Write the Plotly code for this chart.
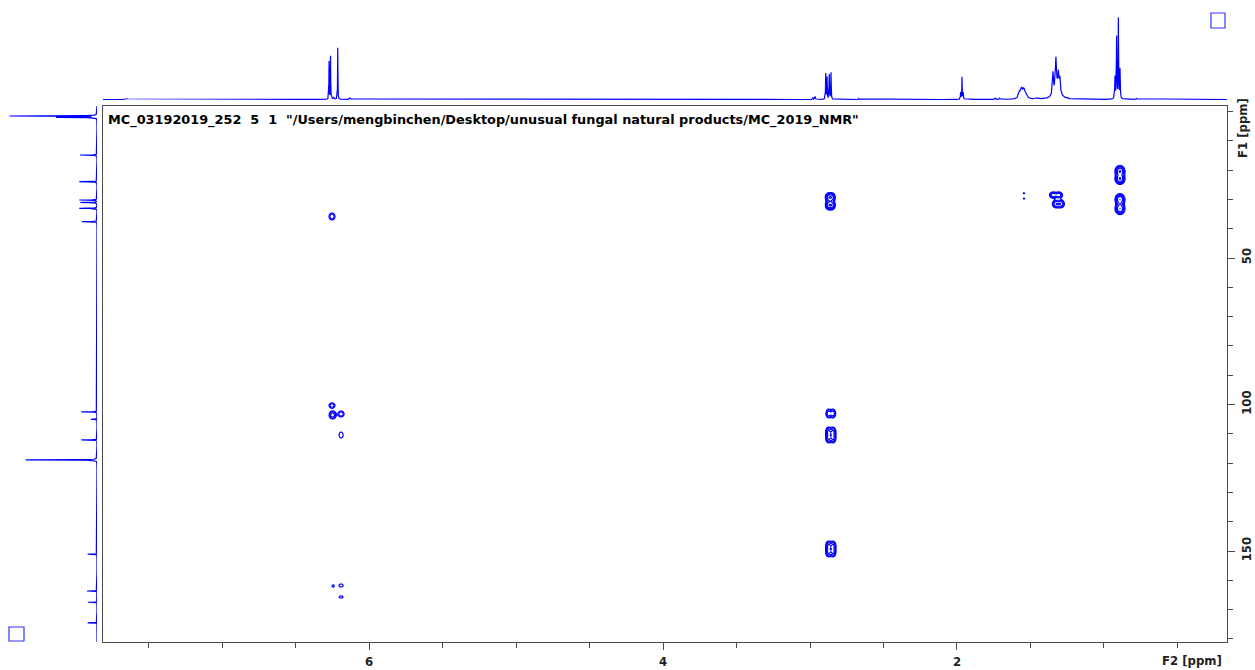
import numpy as np
import plotly.graph_objects as go

W, H = 1255, 670

# ---- 1H projection (F2): line positions (ppm), intensities, half-widths (ppm)
h_shift = [7.650, 6.272, 6.262, 6.255, 6.240, 6.213, 6.130,
           2.980, 2.965, 2.893, 2.884, 2.869, 2.857, 2.670, 2.200,
           1.975, 1.966, 1.958, 1.740, 1.710,
           1.575, 1.560, 1.545, 1.530, 1.460,
           1.347, 1.327, 1.310, 1.300, 1.320,
           0.925, 0.914, 0.902, 0.891, 0.780]
h_height = [1.0, 38, 43, 2.5, 2.0, 52, 1.5,
            2.0, 3.0, 26, 22, 25, 27, 1.0, 0.7,
            7, 22, 7, 1.2, 1.2,
            6, 9, 8, 5, 1.0,
            22, 30, 16, 14, 12,
            22, 62, 80, 30, 1.0]
h_width = [0.01, 0.0012, 0.0012, 0.003, 0.003, 0.0012, 0.004,
           0.002, 0.002, 0.0015, 0.0015, 0.0015, 0.0015, 0.002, 0.002,
           0.002, 0.0012, 0.002, 0.003, 0.003,
           0.008, 0.008, 0.008, 0.008, 0.01,
           0.004, 0.004, 0.004, 0.004, 0.022,
           0.002, 0.0018, 0.0015, 0.002, 0.003]

# ---- 13C projection (F1): line positions (ppm) and intensities
c_shift = [1.54, 2.00, 14.85, 23.96, 30.20, 31.06, 33.04, 37.60,
           102.50, 105.05, 112.10, 118.90, 151.10, 163.65, 167.50, 174.50]
c_height = [87, 40, 17, 17.7, 17.7, 16.7, 17.7, 15,
            15.7, 6, 15.7, 71.3, 9.3, 10, 9, 9.3]
c_width = 0.05

# ---- HMBC cross peaks: F2 (1H ppm), F1 (13C ppm), intensity, std devs (ppm)
cp_f2 = [6.252, 6.252, 6.248, 6.190, 6.190, 6.245, 6.190, 6.190,
         2.874, 2.850, 2.874, 2.850,
         2.874, 2.843,
         2.874, 2.843, 2.874, 2.843,
         2.874, 2.843, 2.874, 2.843,
         1.544, 1.544,
         1.347, 1.306, 1.327, 1.293,
         0.891, 0.891, 0.891, 0.891]
cp_f1 = [35.84, 100.34, 103.58, 103.24, 110.41, 161.95, 161.77, 165.70,
         29.30, 29.30, 32.00, 32.00,
         103.07, 103.07,
         109.30, 109.30, 111.50, 111.50,
         148.20, 148.20, 150.40, 150.40,
         27.90, 29.70,
         28.50, 28.50, 31.50, 31.50,
         20.30, 23.00, 30.00, 33.20]
cp_int = [0.22, 0.20, 0.30, 0.22, 0.15, 0.11, 0.13, 0.12,
          0.40, 0.40, 0.40, 0.40,
          0.30, 0.30,
          0.35, 0.35, 0.35, 0.35,
          0.35, 0.35, 0.35, 0.35,
          0.11, 0.11,
          0.30, 0.30, 0.30, 0.30,
          0.50, 0.50, 0.50, 0.50]
cp_sd2 = [0.016, 0.017, 0.016, 0.016, 0.015, 0.015, 0.019, 0.022,
          0.013, 0.013, 0.013, 0.013,
          0.012, 0.012,
          0.012, 0.012, 0.012, 0.012,
          0.012, 0.012, 0.012, 0.012,
          0.010, 0.010,
          0.016, 0.016, 0.016, 0.016,
          0.019, 0.019, 0.019, 0.019]
cp_sd1 = [0.95, 0.75, 0.92, 0.80, 1.10, 0.80, 0.71, 0.60,
          0.90, 0.90, 0.90, 0.90,
          1.00, 1.00,
          1.00, 1.00, 1.00, 1.00,
          1.00, 1.00, 1.00, 1.00,
          0.40, 0.40,
          0.70, 0.70, 0.90, 0.90,
          1.05, 1.05, 1.10, 1.10]

F2_RANGE = [7.81, 0.163]
F1_RANGE = [181.06, -1.88]
F2_MAJOR = [6, 4, 2]
F2_MINOR = [7.5, 7.0, 6.5, 5.5, 5.0, 4.5, 3.5, 3.0, 2.5, 1.5, 1.0, 0.5]
F1_MAJOR = [50, 100, 150]
F1_MINOR = [0, 10, 20, 30, 40, 60, 70, 80, 90, 110, 120, 130, 140, 160, 170, 180]
TITLE = 'MC_03192019_252  5  1  "/Users/mengbinchen/Desktop/unusual fungal natural products/MC_2019_NMR"'

BLUE = "#0000ff"


def lorentz_sum(grid, centers, heights, widths):
    g = grid[:, None]
    c = np.asarray(centers)[None, :]
    h = np.asarray(heights)[None, :]
    w = np.broadcast_to(np.asarray(widths, dtype=float), c.shape[1:])[None, :]
    return np.sum(h * w ** 2 / ((g - c) ** 2 + w ** 2), axis=1)


# 1H projection trace
h_grid = np.union1d(np.arange(F2_RANGE[1], F2_RANGE[0], 0.0005), h_shift)
h_spec = lorentz_sum(h_grid, h_shift, h_height, h_width)

# 13C projection trace
c_grid = np.union1d(np.arange(F1_RANGE[1], F1_RANGE[0], 0.02), c_shift)
c_spec = lorentz_sum(c_grid, c_shift, c_height, c_width)

fig = go.Figure()

fig.add_trace(go.Scatter(x=h_grid, y=h_spec, mode="lines",
                         line=dict(color=BLUE, width=1.2),
                         xaxis="x2", yaxis="y2", hoverinfo="skip", showlegend=False))
fig.add_trace(go.Scatter(x=c_spec, y=c_grid, mode="lines",
                         line=dict(color=BLUE, width=1.2),
                         xaxis="x3", yaxis="y3", hoverinfo="skip", showlegend=False))

# 2D contour map, computed on local windows around groups of cross peaks
f2 = np.array(cp_f2); f1 = np.array(cp_f1); amp = np.array(cp_int)
s2 = np.array(cp_sd2); s1 = np.array(cp_sd1)
boxes = [[a - 4 * sa, a + 4 * sa, b - 4 * sb, b + 4 * sb]
         for a, b, sa, sb in zip(f2, f1, s2, s1)]
merged = True
while merged:
    merged = False
    out = []
    for bx in boxes:
        for ob in out:
            if bx[0] < ob[1] and ob[0] < bx[1] and bx[2] < ob[3] and ob[2] < bx[3]:
                ob[0] = min(ob[0], bx[0]); ob[1] = max(ob[1], bx[1])
                ob[2] = min(ob[2], bx[2]); ob[3] = max(ob[3], bx[3])
                merged = True
                break
        else:
            out.append(list(bx))
    boxes = out

for x0, x1, y0, y1 in boxes:
    gx = np.arange(x0, x1, 0.0012)
    gy = np.arange(y0, y1, 0.12)
    X, Y = np.meshgrid(gx, gy)
    Z = np.zeros_like(X)
    for a, b, sa, sb, A in zip(f2, f1, s2, s1, amp):
        Z += A * np.exp(-0.5 * (((X - a) / sa) ** 2 + ((Y - b) / sb) ** 2))
    fig.add_trace(go.Contour(
        x=gx, y=gy, z=np.log10(Z + 1e-9),
        contours=dict(start=-1.0, end=0.0, size=float(np.log10(1.5)), coloring="lines"),
        colorscale=[[0, BLUE], [1, BLUE]], showscale=False,
        line=dict(width=1.2), hoverinfo="skip", xaxis="x", yaxis="y"))

XD = [103 / W, 1227 / W]
YD = [(H - 642) / H, (H - 106) / H]
tick_font = dict(family="DejaVu Sans Condensed, DejaVu Sans", size=13, color="#222", weight="bold")
AX = "#4a4a4a"

fig.update_layout(
    width=W, height=H, margin=dict(l=0, r=0, t=0, b=0),
    paper_bgcolor="white", plot_bgcolor="white", showlegend=False,
    xaxis=dict(domain=XD, range=F2_RANGE, anchor="y", showgrid=False, zeroline=False,
               showline=True, mirror=True, linecolor=AX, linewidth=1,
               tickmode="array", tickvals=F2_MAJOR, ticktext=[str(v) for v in F2_MAJOR],
               ticks="outside", ticklen=7, tickcolor=AX, tickfont=tick_font,
               minor=dict(tickmode="array", tickvals=F2_MINOR, ticks="outside",
                          ticklen=5, tickcolor=AX)),
    yaxis=dict(domain=YD, range=F1_RANGE, anchor="x", side="right", showgrid=False,
               zeroline=False, showline=True, mirror=True, linecolor=AX, linewidth=1,
               tickmode="array", tickvals=F1_MAJOR, ticktext=[str(v) for v in F1_MAJOR],
               ticks="outside", ticklen=7, tickcolor=AX, tickfont=tick_font, tickangle=-90,
               minor=dict(tickmode="array", tickvals=F1_MINOR, ticks="outside",
                          ticklen=5, tickcolor=AX)),
    xaxis2=dict(domain=XD, range=F2_RANGE, anchor="y2", visible=False),
    yaxis2=dict(domain=[(H - 100) / H, 1.0], range=[-0.5, 100], anchor="x2", visible=False),
    xaxis3=dict(domain=[0, 97 / W], range=[97, 0], anchor="y3", visible=False),
    yaxis3=dict(domain=YD, range=F1_RANGE, anchor="x3", visible=False),
)

fig.add_annotation(text=TITLE.replace(" ", "\u00a0"), xref="paper", yref="paper",
                   x=106 / W, y=(H - 120) / H, xanchor="left", yanchor="middle",
                   showarrow=False,
                   font=dict(family="DejaVu Sans", size=12.85, color="black", weight="bold"))
fig.add_annotation(text="F2\u00a0[ppm]", xref="paper", yref="paper",
                   x=1192 / W, y=(H - 660) / H, xanchor="center", yanchor="middle",
                   showarrow=False, font=tick_font)
fig.add_annotation(text="F1\u00a0[ppm]", xref="paper", yref="paper",
                   x=1243 / W, y=(H - 128) / H, xanchor="center", yanchor="middle",
                   textangle=-90, showarrow=False, font=tick_font)

for (px0, py0, px1, py1) in [(1211, 13, 1225, 28), (9, 627, 24, 641)]:
    fig.add_shape(type="rect", xref="paper", yref="paper",
                  x0=px0 / W, x1=px1 / W, y0=(H - py1) / H, y1=(H - py0) / H,
                  line=dict(color="#3333ff", width=1.2))

fig.write_html("out.html")
